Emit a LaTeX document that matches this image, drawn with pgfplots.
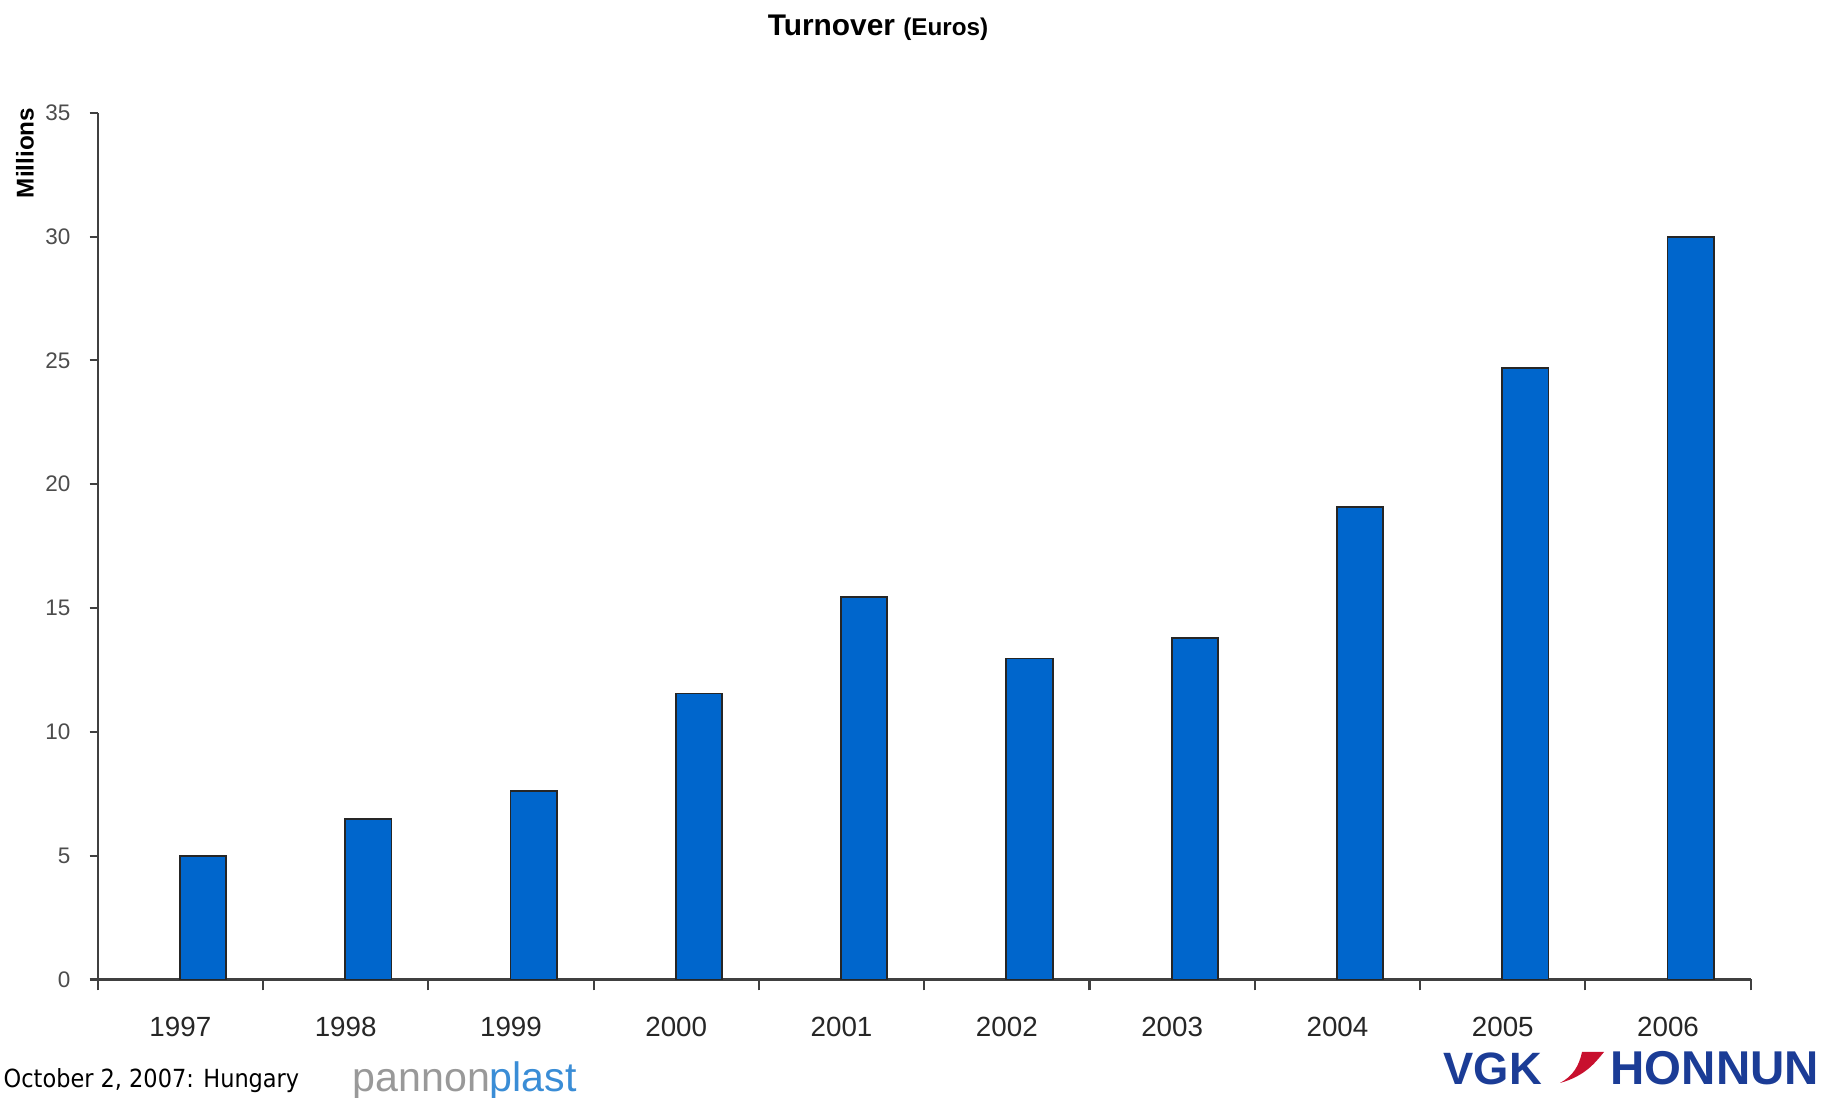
\documentclass[border=0pt]{standalone}
\usepackage{pgfplots}
\pgfplotsset{compat=1.18}
\usepackage{fontspec}
\setmainfont{Liberation Sans}
\newfontfamily\footfont{DejaVu Sans Condensed}
\definecolor{barblue}{HTML}{0066CC}
\definecolor{vgkblue}{HTML}{1B3C96}
\definecolor{vgkred}{HTML}{C8102E}
\definecolor{plastblue}{HTML}{3A8DD6}
\begin{document}
\begin{tikzpicture}
\begin{axis}[
  scale only axis, width=165.3mm, height=86.67mm,
  at={(9.77mm,11.85mm)}, anchor=south west,
  xmin=-0.5, xmax=9.5, ymin=0, ymax=35,
  axis lines=left, axis line style={-, black!75, line width=0.6pt},
  ytick={0,5,...,35},
  xtick={0,...,9},
  xticklabels={1997,1998,1999,2000,2001,2002,2003,2004,2005,2006},
  major x tick style={draw=none},
  minor xtick={-0.5,0.5,...,9.5},
  tick align=outside,
  major tick length=0.8mm, minor tick length=1.1mm,
  tick style={black!75, line width=0.6pt},
  xticklabel style={font=\fontsize{7.9}{9}\selectfont, text=black!85, anchor=center, inner sep=0pt, yshift=-3.95mm},
  yticklabel style={font=\fontsize{6.4}{8}\selectfont, text=black!70, anchor=east, inner sep=0pt, xshift=-1.87mm},
  /pgf/number format/assume math mode=true,
  ybar, bar width=0.28, bar shift=0.137,
  clip=false,
]
\addplot[fill=barblue, draw=black!85, line width=0.5pt] coordinates {
  (0,5.0) (1,6.48) (2,7.6) (3,11.55) (4,15.45)
  (5,12.96) (6,13.8) (7,19.07) (8,24.7) (9,29.97)
};
\end{axis}
% title
\node[anchor=base, inner sep=0pt] at (87.8mm,106.2mm)
  {\bfseries\fontsize{8.5}{10}\selectfont Turnover {\fontsize{6.9}{8}\selectfont(Euros)}};
% y label
\node[rotate=90, inner sep=0pt] at (2.5mm,94.5mm)
  {\bfseries\fontsize{6.9}{8}\selectfont Millions};
% footer
\node[anchor=base west, inner sep=0pt] at (0.3mm,1.0mm)
  {\footfont\fontsize{7.1}{9}\selectfont October 2, 2007: Hungary};
\node[anchor=base west, inner sep=0pt] at (35.2mm,0.6mm)
  {\fontsize{11.7}{13}\selectfont\textcolor{black!40}{pannon}\textcolor{plastblue}{plast}};
\node[anchor=base west, inner sep=0pt] at (144.3mm,1.3mm)
  {\bfseries\fontsize{12.9}{14}\selectfont\textcolor{vgkblue}{VGK}};
\fill[vgkred] (156.0mm,1.5mm) .. controls (158.5mm,2.2mm) and (159.5mm,3.5mm) .. (160.4mm,4.6mm)
  -- (158.2mm,4.6mm) .. controls (157.9mm,3.2mm) and (157.3mm,2.2mm) .. cycle;
\node[anchor=base west, inner sep=0pt] at (161.0mm,1.3mm)
  {\bfseries\fontsize{13.5}{15}\selectfont\textcolor{vgkblue}{HONNUN}};
\pgfresetboundingbox
\useasboundingbox (0,0) rectangle (182.4mm,109.8mm);
\end{tikzpicture}
\end{document}
